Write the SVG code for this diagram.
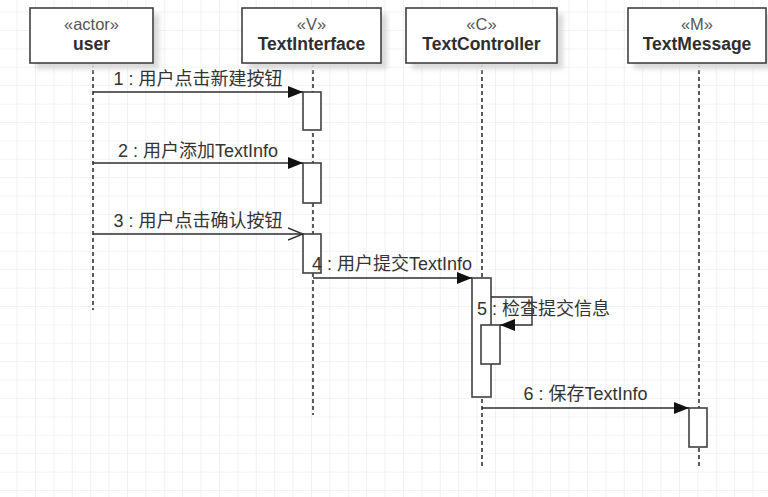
<svg xmlns="http://www.w3.org/2000/svg" width="768" height="497" viewBox="0 0 768 497">
  <style>
    .box { fill: #ffffff; stroke: #404040; stroke-width: 1.6; }
    .shadow { fill: #d9d9d9; filter: url(#soft); }
    .stereo { font-family: "Liberation Sans", Arial, sans-serif; font-size: 16.5px; fill: #555555; text-anchor: middle; }
    .name { font-family: "Liberation Sans", Arial, sans-serif; font-size: 17.5px; font-weight: bold; fill: #2e2e2e; text-anchor: middle; }
    .life { stroke: #333333; stroke-width: 1.6; stroke-dasharray: 4 3; fill: none; }
    .act { fill: #ffffff; stroke: #404040; stroke-width: 1.6; }
    .msg { stroke: #2e2e2e; stroke-width: 1.4; fill: none; }
    .label { font-family: "Liberation Sans", Arial, "Noto Sans CJK SC", sans-serif; font-size: 18px; fill: #333333; }
    .mid { text-anchor: middle; }
  </style>
  <defs>
    <pattern id="grid" x="-1.8" y="-6.8" width="18.4" height="18.4" patternUnits="userSpaceOnUse">
      <path d="M 0 0 L 18.4 0 M 0 0 L 0 18.4" stroke="#e8e8e8" stroke-width="1.2" fill="none"/>
    </pattern>
    <filter id="soft" x="-20%" y="-40%" width="140%" height="180%">
      <feGaussianBlur stdDeviation="2.5"/>
    </filter>
    <marker id="filled" markerWidth="15" markerHeight="12" refX="15" refY="6" orient="auto" markerUnits="userSpaceOnUse">
      <path d="M 0 0 L 15 6 L 0 12 Z" fill="#111111"/>
    </marker>
    <marker id="open" markerWidth="16" markerHeight="14" refX="15" refY="7" orient="auto" markerUnits="userSpaceOnUse">
      <path d="M 0 1 L 15 7 L 0 13" fill="none" stroke="#2e2e2e" stroke-width="1.4"/>
    </marker>
  </defs>

  <!-- background grid -->
  <rect x="0" y="0" width="768" height="497" fill="#ffffff"/>
  <rect x="0" y="0" width="768" height="497" fill="url(#grid)"/>

  <!-- lifelines -->
  <g id="lifelines">
    <line class="life" x1="93" y1="63" x2="93" y2="310"/>
    <line class="life" x1="313" y1="63" x2="313" y2="415"/>
    <line class="life" x1="482" y1="63" x2="482" y2="467"/>
    <line class="life" x1="699" y1="63" x2="699" y2="466"/>
  </g>

  <!-- participants -->
  <g id="user">
    <rect class="shadow" x="36" y="14" width="123" height="55"/>
    <rect class="box" x="30" y="8" width="123" height="55"/>
    <text class="stereo" x="91.5" y="30">«actor»</text>
    <text class="name" x="91.5" y="50">user</text>
  </g>
  <g id="TextInterface">
    <rect class="shadow" x="248" y="14" width="139" height="55"/>
    <rect class="box" x="242" y="8" width="139" height="55"/>
    <text class="stereo" x="311.5" y="30">«V»</text>
    <text class="name" x="311.5" y="50">TextInterface</text>
  </g>
  <g id="TextController">
    <rect class="shadow" x="412" y="14" width="151" height="55"/>
    <rect class="box" x="406" y="8" width="151" height="55"/>
    <text class="stereo" x="481.5" y="30">«C»</text>
    <text class="name" x="481.5" y="50">TextController</text>
  </g>
  <g id="TextMessage">
    <rect class="shadow" x="634" y="14" width="138" height="55"/>
    <rect class="box" x="628" y="8" width="138" height="55"/>
    <text class="stereo" x="697" y="30">«M»</text>
    <text class="name" x="697" y="50">TextMessage</text>
  </g>

  <!-- activation bars -->
  <g id="activations">
    <rect class="act" x="303" y="92" width="18" height="38"/>
    <rect class="act" x="303" y="163" width="18" height="40"/>
    <rect class="act" x="303" y="234" width="18" height="39"/>
    <rect class="act" x="472" y="278" width="19" height="119"/>
    <rect class="act" x="481" y="325" width="19" height="39"/>
    <rect class="act" x="689" y="408" width="18" height="39"/>
  </g>

  <!-- messages -->
  <g id="connectors">
    <line class="msg" x1="93" y1="92" x2="303" y2="92" marker-end="url(#filled)"/>
    <line class="msg" x1="93" y1="163" x2="303" y2="163" marker-end="url(#filled)"/>
    <line class="msg" x1="93" y1="234" x2="303" y2="234" marker-end="url(#open)"/>
    <line class="msg" x1="313" y1="278" x2="472" y2="278" marker-end="url(#filled)"/>
    <path class="msg" d="M 491 297 L 532 297 L 532 325 L 500 325" marker-end="url(#filled)"/>
    <line class="msg" x1="482" y1="408" x2="689" y2="408" marker-end="url(#filled)"/>
  </g>

  <!-- message labels -->
  <g id="labels">
    <text class="label mid" x="198" y="85">1 : 用户点击新建按钮</text>
    <text class="label mid" x="198" y="157">2 : 用户添加TextInfo</text>
    <text class="label mid" x="198" y="227">3 : 用户点击确认按钮</text>
    <text class="label mid" x="392" y="270">4 : 用户提交TextInfo</text>
    <text class="label" x="477" y="315">5 : 检查提交信息</text>
    <text class="label mid" x="585.5" y="400">6 : 保存TextInfo</text>
  </g>
</svg>
